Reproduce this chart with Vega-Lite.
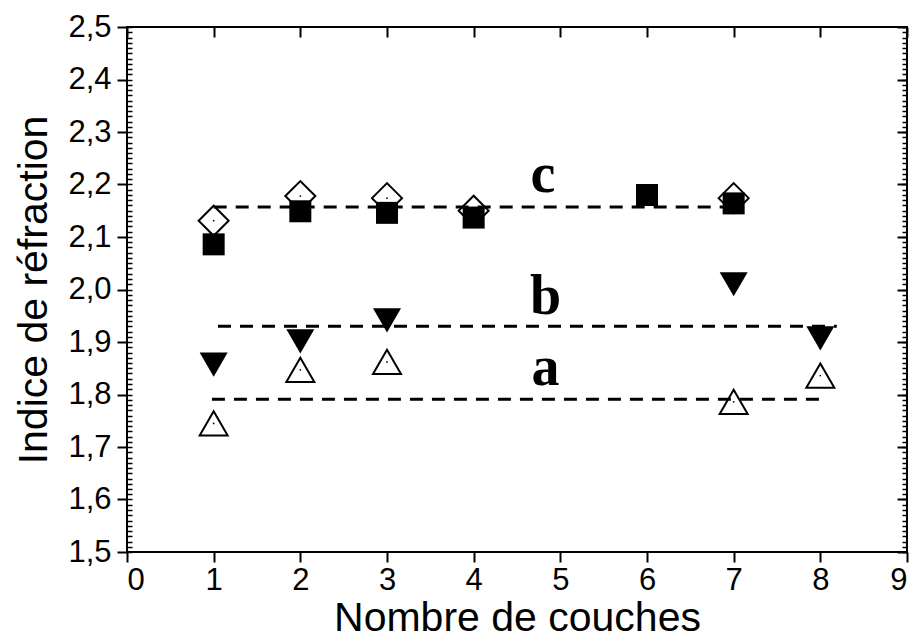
{
  "$schema": "https://vega.github.io/schema/vega-lite/v6.json",
  "autosize": {"type": "none"},
  "width": 780,
  "height": 525,
  "padding": {"left": 127, "top": 27, "right": 10, "bottom": 89},
  "background": "white",
  "config": {
    "view": {"stroke": "black", "strokeWidth": 2},
    "axis": {
      "grid": false,
      "domain": false,
      "labelFont": "Liberation Sans",
      "labelFontSize": 31,
      "labelColor": "black",
      "titleFont": "Liberation Sans",
      "titleFontSize": 41,
      "titleFontWeight": "normal",
      "titleColor": "black",
      "tickColor": "black",
      "tickWidth": 2
    }
  },
  "datasets": {
    "lines": [
      {"serie": "c", "x1": 1, "x2": 7.04, "y": 2.157},
      {"serie": "b", "x1": 1.05, "x2": 8.19, "y": 1.93},
      {"serie": "a", "x1": 0.98, "x2": 8.04, "y": 1.791}
    ],
    "diamonds": [
      {"couches": 1, "indice": 2.131},
      {"couches": 2, "indice": 2.178},
      {"couches": 3, "indice": 2.174},
      {"couches": 4, "indice": 2.15},
      {"couches": 7, "indice": 2.174}
    ],
    "squares": [
      {"couches": 1, "indice": 2.086},
      {"couches": 2, "indice": 2.149},
      {"couches": 3, "indice": 2.146},
      {"couches": 4, "indice": 2.137},
      {"couches": 6, "indice": 2.18},
      {"couches": 7, "indice": 2.164}
    ],
    "tridown": [
      {"couches": 1, "indice": 1.857},
      {"couches": 2, "indice": 1.901},
      {"couches": 3, "indice": 1.941},
      {"couches": 7, "indice": 2.01},
      {"couches": 8, "indice": 1.907}
    ],
    "triup": [
      {"couches": 1, "indice": 1.745},
      {"couches": 2, "indice": 1.847},
      {"couches": 3, "indice": 1.862},
      {"couches": 7, "indice": 1.786},
      {"couches": 8, "indice": 1.836}
    ],
    "dots": [
      {"couches": 1, "indice": 2.131},
      {"couches": 2, "indice": 2.178},
      {"couches": 3, "indice": 2.174},
      {"couches": 7, "indice": 2.174},
      {"couches": 1, "indice": 1.745},
      {"couches": 2, "indice": 1.847},
      {"couches": 3, "indice": 1.862},
      {"couches": 7, "indice": 1.786},
      {"couches": 8, "indice": 1.836}
    ],
    "labels": [
      {"t": "c", "x": 4.8, "y": 2.186},
      {"t": "b", "x": 4.83, "y": 1.953},
      {"t": "a", "x": 4.83, "y": 1.818}
    ]
  },
  "resolve": {"axis": {"x": "independent", "y": "independent"}},
  "layer": [
    {
      "data": {"name": "lines"},
      "mark": {"type": "rule", "stroke": "black", "strokeWidth": 3, "strokeDash": [13, 9]},
      "encoding": {
        "x": {"field": "x1", "type": "quantitative",
          "scale": {"domain": [0, 9], "nice": false, "zero": false},
          "axis": {"orient": "bottom", "values": [0,1,2,3,4,5,6,7,8,9], "tickSize": 10, "labelPadding": 3, "title": "Nombre de couches", "titlePadding": 3}},
        "x2": {"field": "x2"},
        "y": {"field": "y", "type": "quantitative",
          "scale": {"domain": [1.5, 2.5], "nice": false, "zero": false},
          "axis": {"orient": "left", "values": [1.5,1.6,1.7,1.8,1.9,2.0,2.1,2.2,2.3,2.4,2.5], "tickSize": 10, "labelPadding": 6,
            "labelExpr": "replace(format(datum.value, '.1f'), '.', ',')", "title": "Indice de réfraction", "titlePadding": 12}}
      }
    },
    {
      "data": {"name": "diamonds"},
      "mark": {"type": "point", "shape": "diamond", "filled": false, "stroke": "black", "strokeWidth": 2, "size": 900, "opacity": 1},
      "encoding": {
        "x": {"field": "couches", "type": "quantitative",
          "scale": {"domain": [0, 9], "nice": false, "zero": false},
          "axis": {"orient": "top", "values": [0,1,2,3,4,5,6,7,8,9], "tickSize": -10, "labels": false, "title": null}},
        "y": {"field": "indice", "type": "quantitative",
          "scale": {"domain": [1.5, 2.5], "nice": false, "zero": false},
          "axis": {"orient": "left", "tickSize": -5, "tickWidth": 1.5, "labels": false, "title": null,
            "values": [1.5,1.51,1.52,1.53,1.54,1.55,1.56,1.57,1.58,1.59,1.6,1.61,1.62,1.63,1.64,1.65,1.66,1.67,1.68,1.69,1.7,1.71,1.72,1.73,1.74,1.75,1.76,1.77,1.78,1.79,1.8,1.81,1.82,1.83,1.84,1.85,1.86,1.87,1.88,1.89,1.9,1.91,1.92,1.93,1.94,1.95,1.96,1.97,1.98,1.99,2.0,2.01,2.02,2.03,2.04,2.05,2.06,2.07,2.08,2.09,2.1,2.11,2.12,2.13,2.14,2.15,2.16,2.17,2.18,2.19,2.2,2.21,2.22,2.23,2.24,2.25,2.26,2.27,2.28,2.29,2.3,2.31,2.32,2.33,2.34,2.35,2.36,2.37,2.38,2.39,2.4,2.41,2.42,2.43,2.44,2.45,2.46,2.47,2.48,2.49,2.5]}}
      }
    },
    {
      "data": {"name": "squares"},
      "mark": {"type": "point", "shape": "square", "filled": true, "fill": "black", "size": 484, "opacity": 1},
      "encoding": {
        "x": {"field": "couches", "type": "quantitative",
          "scale": {"domain": [0, 9], "nice": false, "zero": false}, "axis": null},
        "y": {"field": "indice", "type": "quantitative",
          "scale": {"domain": [1.5, 2.5], "nice": false, "zero": false},
          "axis": {"orient": "right", "values": [1.5,1.6,1.7,1.8,1.9,2.0,2.1,2.2,2.3,2.4,2.5], "tickSize": -10, "labels": false, "title": null}}
      }
    },
    {
      "data": {"name": "tridown"},
      "mark": {"type": "point", "shape": "triangle-down", "filled": true, "fill": "black", "size": 784, "opacity": 1},
      "encoding": {
        "x": {"field": "couches", "type": "quantitative",
          "scale": {"domain": [0, 9], "nice": false, "zero": false}, "axis": null},
        "y": {"field": "indice", "type": "quantitative",
          "scale": {"domain": [1.5, 2.5], "nice": false, "zero": false},
          "axis": {"orient": "right", "tickSize": -5, "tickWidth": 1.5, "labels": false, "title": null,
            "values": [1.5,1.51,1.52,1.53,1.54,1.55,1.56,1.57,1.58,1.59,1.6,1.61,1.62,1.63,1.64,1.65,1.66,1.67,1.68,1.69,1.7,1.71,1.72,1.73,1.74,1.75,1.76,1.77,1.78,1.79,1.8,1.81,1.82,1.83,1.84,1.85,1.86,1.87,1.88,1.89,1.9,1.91,1.92,1.93,1.94,1.95,1.96,1.97,1.98,1.99,2.0,2.01,2.02,2.03,2.04,2.05,2.06,2.07,2.08,2.09,2.1,2.11,2.12,2.13,2.14,2.15,2.16,2.17,2.18,2.19,2.2,2.21,2.22,2.23,2.24,2.25,2.26,2.27,2.28,2.29,2.3,2.31,2.32,2.33,2.34,2.35,2.36,2.37,2.38,2.39,2.4,2.41,2.42,2.43,2.44,2.45,2.46,2.47,2.48,2.49,2.5]}}
      }
    },
    {
      "data": {"name": "triup"},
      "mark": {"type": "point", "shape": "triangle-up", "filled": false, "stroke": "black", "strokeWidth": 2, "size": 784, "opacity": 1},
      "encoding": {
        "x": {"field": "couches", "type": "quantitative",
          "scale": {"domain": [0, 9], "nice": false, "zero": false}, "axis": null},
        "y": {"field": "indice", "type": "quantitative",
          "scale": {"domain": [1.5, 2.5], "nice": false, "zero": false}, "axis": null}
      }
    },
    {
      "data": {"name": "dots"},
      "mark": {"type": "point", "shape": "circle", "filled": true, "fill": "black", "size": 3, "opacity": 1},
      "encoding": {
        "x": {"field": "couches", "type": "quantitative",
          "scale": {"domain": [0, 9], "nice": false, "zero": false}, "axis": null},
        "y": {"field": "indice", "type": "quantitative",
          "scale": {"domain": [1.5, 2.5], "nice": false, "zero": false}, "axis": null}
      }
    },
    {
      "data": {"name": "labels"},
      "mark": {"type": "text", "font": "Liberation Serif", "fontWeight": "bold", "fontSize": 56, "align": "center", "baseline": "alphabetic", "color": "black"},
      "encoding": {
        "x": {"field": "x", "type": "quantitative",
          "scale": {"domain": [0, 9], "nice": false, "zero": false}, "axis": null},
        "y": {"field": "y", "type": "quantitative",
          "scale": {"domain": [1.5, 2.5], "nice": false, "zero": false}, "axis": null},
        "text": {"field": "t"}
      }
    }
  ]
}
